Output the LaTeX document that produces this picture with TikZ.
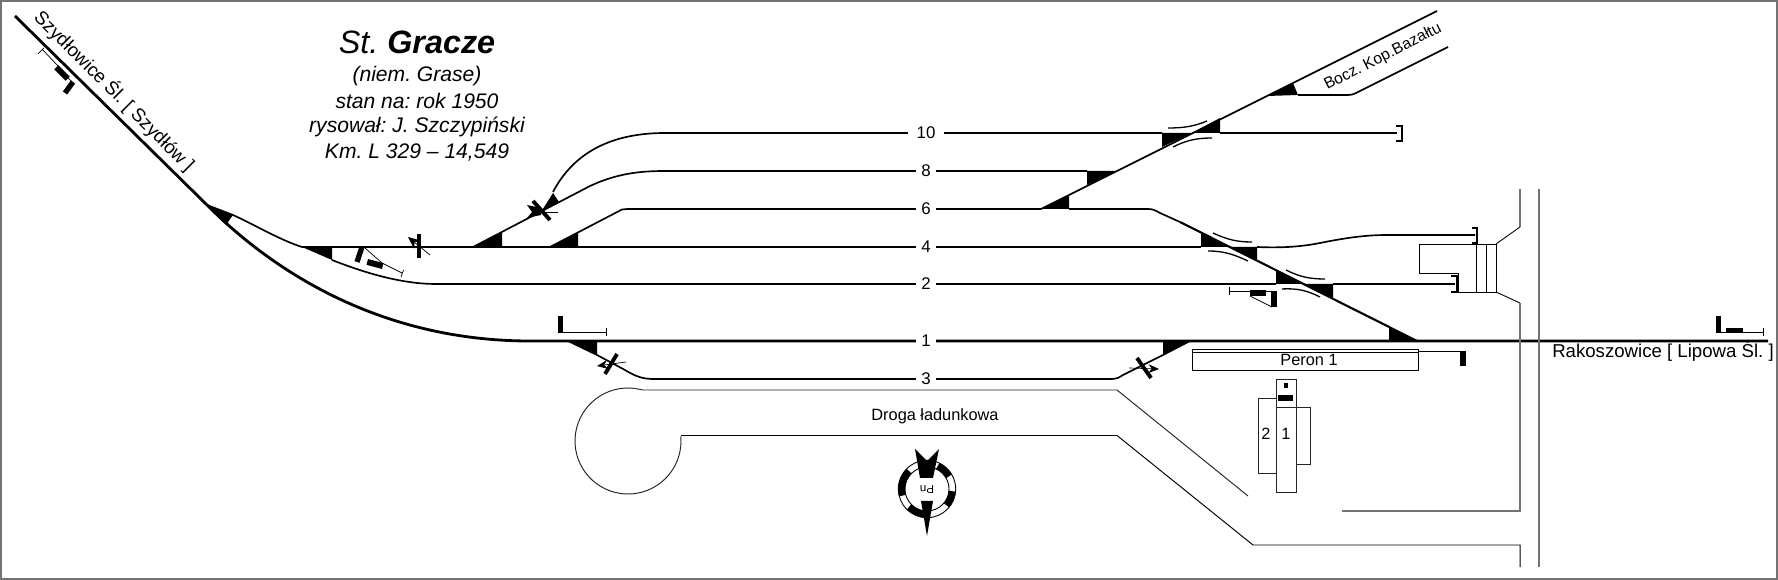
\documentclass[tikz,border=0pt]{standalone}
\usepackage{fontspec}
\setmainfont{Liberation Sans}
\usetikzlibrary{arrows.meta}
\tikzset{
  trackline/.style={line width=0.95pt,black},
  mainline/.style={line width=1.6pt,black},
  wedge/.style={fill=black,draw=none},
  thinline/.style={line width=0.4pt,black},
  roadline/.style={line width=0.55pt,black!85},
  grayline/.style={line width=0.8pt,black!55},
  slipmark/.style={line width=0.75pt,black},
  stopend/.style={line width=1pt,black},
  sigbar/.style={line width=2.2pt,black},
  sidebar/.style={line width=3pt,black},
  tracklabel/.style={fill=white,inner sep=0pt,minimum height=11pt,font=\fontsize{9.6}{10}\selectfont},
  titleline/.style={font=\fontsize{12}{13}\selectfont\itshape},
  plainlabel/.style={font=\fontsize{9.3}{10}\selectfont}
}
\begin{document}
\frenchspacing
\begin{tikzpicture}[x=0.02cm,y=-0.02cm]
\useasboundingbox (0,0) rectangle (1778,580);
\draw[line width=1pt,black!55] (0.8,0.8) rectangle (1777.2,579.2);

% Title
\node[font=\fontsize{18.4}{20}\selectfont\itshape] (title) at (417,42) {St. \textbf{Gracze}};
\node[titleline] (titleA) at (417,76) {(niem. Grase)};
\node[titleline] (titleB) at (417,101) {stan na: rok 1950};
\node[titleline] (titleC) at (417,127) {rysował: J. Szczypiński};
\node[titleline] (titleD) at (417,152) {Km. L 329 – 14,549};

% Main line and left throat
\draw[mainline] (15,16) -- (207,205) .. controls (290,288) and (400,341) .. (530,341) -- (1768,341);
\draw[trackline] (207,205) -- (233,215) .. controls (255,225) and (280,240) .. (302,247);
\draw[trackline] (302,247) -- (1201,247);
\draw[trackline] (332,260) .. controls (370,275) and (405,284) .. (436,284) -- (1276,284);
\draw[trackline] (473,247) -- (590,186) .. controls (620,172) and (645,171) .. (667,171) -- (1087,171);
\draw[trackline] (553,192) .. controls (575,150) and (615,133) .. (665,133) -- (1162,133);
\draw[trackline] (550,247) -- (622,209.5) .. controls (625,209) and (628,209) .. (632,209) -- (1041,209);
\draw[trackline] (568,341) -- (597,355) -- (625,370) .. controls (638,378) and (645,379) .. (655,379) -- (1110,379) .. controls (1118,379) and (1120,377) .. (1123,375) -- (1163,355) -- (1190,341);

% Right throat
\draw[trackline] (1041,209) -- (1437,11);
\draw[trackline] (1069,209) -- (1148,209) .. controls (1154,209) and (1156,211) .. (1160,213) -- (1180,222);
\draw[mainline,line width=1.2pt] (1180,222) -- (1417,341);
\draw[trackline] (1220,133) -- (1397,133);
\draw[trackline] (1257,247) .. controls (1280,248) and (1300,247) .. (1320,243) .. controls (1345,238) and (1365,235) .. (1387,235) -- (1475,235);
\draw[trackline] (1333,284) -- (1455,284);
\draw[trackline] (1298,95) -- (1348,95) .. controls (1353,95) and (1356,93) .. (1360,91) -- (1448,47);

% Black frogs
\foreach \ax/\ay/\bx/\by/\cx/\cy in {207/205/233/215/226/225,
    302/247/332/247/332/260, 473/247/502/247/502/232, 550/247/578/247/578/232,
    568/341/597/341/597/355, 1163/341/1190/341/1163/355, 1389/327/1389/341/1417/341,
    1041/209/1069/209/1069/195, 1087/171/1117/171/1087/185,
    1162/133/1192/133/1162/147, 1192/133/1220/133/1220/118,
    1267/96/1293/83/1298/95, 1201/233/1201/247/1230/247, 1230/247/1257/247/1257/261,
    1276/270/1276/284/1305/284, 1305/284/1333/284/1333/298,
    541/212/553/193/559/202}
  \fill[wedge] (\ax,\ay) -- (\bx,\by) -- (\cx,\cy) -- cycle;

% Slip marks
\draw[slipmark] (1168,128) .. controls (1185,128) and (1195,126) .. (1207,121);
\draw[slipmark] (1173,147) .. controls (1185,141) and (1195,138) .. (1212,138);
\draw[slipmark] (1213,233) .. controls (1228,240) and (1238,242) .. (1252,242);
\draw[slipmark] (1208,251) .. controls (1225,251) and (1235,255) .. (1248,261);
\draw[slipmark] (1286,270) .. controls (1300,277) and (1310,279) .. (1325,279);
\draw[slipmark] (1282,289) .. controls (1298,288) and (1308,291) .. (1320,297);

% Buffer stops
\draw[stopend] (1396,126) -- (1402,126) -- (1402,141) -- (1396,141);
\draw[stopend] (1472,228) -- (1477,228) -- (1477,243) -- (1472,243);
\draw[stopend] (1451,276) -- (1457,276) -- (1457,292) -- (1451,292);

% Track numbers
\foreach \y/\t/\w in {133/10/36, 171/8/20, 209/6/20, 247/4/20, 284/2/20, 341/1/20, 379/3/20}
  \node[tracklabel,minimum width=\w*0.5669pt] (track\t) at (926,\y) {\t};

% Signals on the tracks
\draw[sigbar] (419,234) -- (419,258);
\draw[thinline,-{Stealth[length=7pt,width=6pt]}] (430,255) -- (408,237);
\draw[sigbar] (533,201) -- (550,220);
\draw[thinline] (558,212) -- (540,212);
\fill (541,208) -- (527,205) -- (532,212) -- (527,218) -- (541,215) -- cycle;
\draw[sigbar] (617,354) -- (605,374);
\draw[thinline,-{Stealth[length=6pt,width=5pt]}] (626,362) -- (597,366);
\draw[sigbar] (1137,358) -- (1151,378);
\draw[thinline,-{Stealth[length=6pt,width=5pt]}] (1129,368) -- (1159,369);

% Signals beside the tracks
\draw[thinline] (42,49) -- (58,66) (68,78) -- (73,83);
\draw[thinline] (38,54) -- (44,48);
\fill[rotate around={-45:(62,73)}] (54,70) rectangle (70,76);
\draw[sidebar] (73,82) -- (65,93);

\draw[sidebar] (362,247) -- (357,262);
\draw[thinline] (365,248) -- (382,263) -- (402,273);
\draw[thinline] (403.5,270) -- (401,277);
\fill[rotate around={-15:(375,264)}] (367,261) rectangle (383,267);

\draw[sidebar,line width=2.6pt] (560.5,316) -- (560.5,333);
\draw[thinline] (563,332) -- (606,332) (606,328) -- (606,336);

\draw[thinline] (1229,287) -- (1229,295) (1229,291) -- (1272,291);
\fill (1250,290) rectangle (1266,296);
\draw[thinline] (1250,296) -- (1272,307);
\fill (1271,291) rectangle (1277,307);

\draw[thinline] (1418,351) -- (1460,351);
\fill (1460,351) rectangle (1466,366);

\fill (1716,316) rectangle (1721,333);
\fill (1726,328) rectangle (1743,333);
\draw[thinline] (1721,332) -- (1726,332) (1743,332) -- (1763,332) (1763,328) -- (1763,336);

% Platform
\draw[thinline,line width=0.5pt] (1192,370) -- (1192,349) -- (1418,349) -- (1418,370) -- cycle;
\draw[thinline,line width=0.5pt] (1192,352.5) -- (1418,352.5);
\node[plainlabel] (peron) at (1309,359.5) {Peron 1};

% Goods road
\begin{scope}[shift={(628,441)},y=0.02cm]
\draw[roadline] (82:53) arc[start angle=82,end angle=365,radius=53];
\end{scope}
\draw[roadline] (635.4,388.5) -- (643,390) -- (1117,390) -- (1248,496);
\draw[roadline,black] (681,435.5) -- (1117,435.5) -- (1253,545) -- (1520,545) -- (1520,567);
\node[plainlabel] (road) at (935,416) {Droga ładunkowa};

% Road over the line
\draw[grayline] (1520,189) -- (1520,227);
\draw[thinline,line width=0.5pt] (1520,227) -- (1496,244);
\draw[thinline,line width=0.5pt] (1496,292) -- (1520,303);
\draw[grayline] (1520,303) -- (1520,511) -- (1342,511);
\draw[grayline,line width=1.1pt] (1539,189) -- (1539,567);
\draw[thinline,line width=0.5pt] (1496,244) -- (1419,244) -- (1419,273) -- (1458,273) -- (1458,292) -- (1496,292) -- cycle;
\foreach \x in {1476,1486}
  \draw[thinline] (\x,244) -- (\x,292);

% Station buildings
\draw[roadline] (1258,398) rectangle (1276,473);
\draw[roadline] (1296,407) rectangle (1310,464);
\draw[roadline] (1276,379) rectangle (1296,492);
\draw[roadline] (1276,407) -- (1296,407);
\fill (1278,395) rectangle (1293,401);
\fill (1284,383) rectangle (1288,388);
\node[plainlabel] (house2) at (1266,434) {2};
\node[plainlabel] (house1) at (1286,434) {1};

% Line names
\node[font=\fontsize{10.7}{11}\selectfont,rotate=-45] (west) at (114.5,91) {Szydłowice Śl. [ Szydłów ]};
\node[font=\fontsize{10.6}{11}\selectfont] (east) at (1663,351) {Rakoszowice [ Lipowa Śl. ]};
\node[font=\fontsize{9}{10}\selectfont,rotate=27] (siding) at (1383,57) {Bocz. Kop.Bazałtu};

% North arrow
\begin{scope}[shift={(927,489)},y=0.02cm]
\draw[thinline,line width=0.5pt] (0,0) circle (28.7);
\draw[thinline,line width=0.5pt] (0,0) circle (22);
\foreach \a/\b in {135/195, 225/272, 320/355, 30/65}
  \draw[line width=3.9pt,black] (\a:25.4) arc[start angle=\a,end angle=\b,radius=25.4];
\fill (-12,40) -- (0,28) -- (12,40) -- (6,11) -- (-7,11) -- cycle;
\fill (-6,-12) -- (6,-12) -- (0,-47) -- cycle;
\node[font=\fontsize{6.6}{7}\selectfont,rotate=180,inner sep=0pt] (north) at (0,0) {Pn};
\end{scope}
\end{tikzpicture}
\end{document}
